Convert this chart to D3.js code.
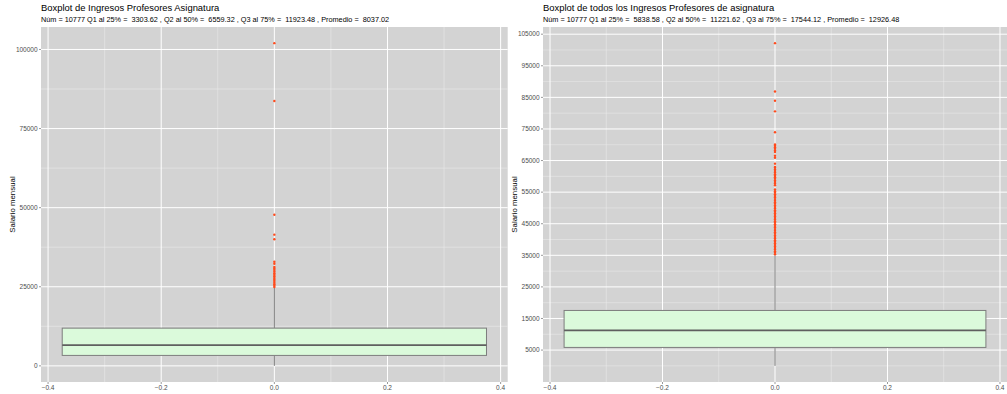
<!DOCTYPE html>
<html>
<head>
<meta charset="utf-8">
<script src="https://cdn.jsdelivr.net/npm/d3@7"></script>
<style>
  body { margin: 0; background: #fff; }
  svg { display: block; font-family: "Liberation Sans", Arial, sans-serif; }
</style>
</head>
<body>
<div id="chart"></div>
<script>
// Shared values.
const sampleSize = 10777;
const xTicks = [-0.4, -0.2, 0.0, 0.2, 0.4];
const xMinorTicks = [-0.3, -0.1, 0.1, 0.3];
const yLabel = "Salario mensual";

// Left chart: Ingresos Profesores Asignatura.
const leftTitle = "Boxplot de Ingresos Profesores Asignatura";
const leftQuartiles = [3303.62, 6559.32, 11923.48];
const leftMean = 8037.02;
const leftWhiskers = [0, 24700];
const leftOutliers = [24900, 25300, 25800, 26300, 26800, 27300, 27800, 28300, 28800,
  29300, 29800, 30300, 30800, 31250, 32290, 32900, 40000, 41470, 47740, 83700, 102000];
const leftYTicks = [0, 25000, 50000, 75000, 100000];
const leftYMinor = [12500, 37500, 62500, 87500];

// Right chart: todos los Ingresos Profesores de asignatura.
const rightTitle = "Boxplot de todos los Ingresos Profesores de asignatura";
const rightQuartiles = [5838.58, 11221.62, 17544.12];
const rightMean = 12926.48;
const rightWhiskers = [0, 35000];
const rightOutliers = [35300, 35800, 36300, 36800, 37300, 37800, 38300, 38800, 39300,
  39800, 40300, 40800, 41300, 41800, 42300, 42800, 43300, 43800, 44300, 44800, 45300,
  45800, 46300, 46800, 47300, 47800, 48300, 48800, 49300, 49800, 50300, 50800, 51300,
  51800, 52300, 52800, 53300, 53800, 54300, 54800, 55300, 55850, 57200, 57700, 58200,
  58700, 59200, 59700, 60200, 60700, 61200, 61700, 62200, 62700, 62960, 64020, 65900,
  66540, 67700, 68200, 68700, 69200, 69700, 70070, 73970, 80570, 83930, 86860, 102170];
const rightYTicks = [5000, 15000, 25000, 35000, 45000, 55000, 65000, 75000, 85000, 95000, 105000];
const rightYMinor = [0, 10000, 20000, 30000, 40000, 50000, 60000, 70000, 80000, 90000, 100000];

// Layout.
const width = 1007;
const height = 394;
const baseFont = 7.85;
const subtitleFont = 7.3;
const tickFont = 6.5;

const svg = d3.select("#chart").append("svg")
  .attr("width", width)
  .attr("height", height);

function fmt(v) {
  return v.toFixed(2);
}

function drawBoxplot(opts) {
  const g = svg.append("g");
  const left = opts.left, right = opts.right, top = 27, bottom = 382;

  // x scale with ggplot-like 5% expansion around the box width.
  const xScale = d3.scaleLinear()
    .domain([-0.4125, 0.4125])
    .range([left, right]);

  const lo = d3.min([opts.whiskers[0], d3.min(opts.outliers)]);
  const hi = d3.max([opts.whiskers[1], d3.max(opts.outliers)]);
  const pad = (hi - lo) * 0.05;
  const yScale = d3.scaleLinear()
    .domain([lo - pad, hi + pad])
    .range([bottom, top]);

  // Panel background.
  g.append("rect")
    .attr("x", left).attr("y", top)
    .attr("width", right - left).attr("height", bottom - top)
    .attr("fill", "#d3d3d3");

  // Minor grid.
  g.selectAll(".ymin").data(opts.yMinor).enter().append("line")
    .attr("x1", left).attr("x2", right)
    .attr("y1", (d) => yScale(d)).attr("y2", (d) => yScale(d))
    .attr("stroke", "#ececec").attr("stroke-width", 0.5);
  g.selectAll(".xmin").data(xMinorTicks).enter().append("line")
    .attr("y1", top).attr("y2", bottom)
    .attr("x1", (d) => xScale(d)).attr("x2", (d) => xScale(d))
    .attr("stroke", "#ececec").attr("stroke-width", 0.5);

  // Major grid.
  g.selectAll(".ymaj").data(opts.yTicks).enter().append("line")
    .attr("x1", left).attr("x2", right)
    .attr("y1", (d) => yScale(d)).attr("y2", (d) => yScale(d))
    .attr("stroke", "#ffffff").attr("stroke-width", 1);
  g.selectAll(".xmaj").data(xTicks).enter().append("line")
    .attr("y1", top).attr("y2", bottom)
    .attr("x1", (d) => xScale(d)).attr("x2", (d) => xScale(d))
    .attr("stroke", "#ffffff").attr("stroke-width", 1);

  // Whiskers.
  const q = opts.quartiles;
  g.append("line")
    .attr("x1", xScale(0)).attr("x2", xScale(0))
    .attr("y1", yScale(q[2])).attr("y2", yScale(opts.whiskers[1]))
    .attr("stroke", "#6e6e6e").attr("stroke-width", 0.9);
  g.append("line")
    .attr("x1", xScale(0)).attr("x2", xScale(0))
    .attr("y1", yScale(q[0])).attr("y2", yScale(opts.whiskers[0]))
    .attr("stroke", "#6e6e6e").attr("stroke-width", 0.9);

  // Box.
  g.append("rect")
    .attr("x", xScale(-0.375)).attr("y", yScale(q[2]))
    .attr("width", xScale(0.375) - xScale(-0.375))
    .attr("height", yScale(q[0]) - yScale(q[2]))
    .attr("fill", "#dbfadb")
    .attr("stroke", "#7d7d7d").attr("stroke-width", 1);
  g.append("line")
    .attr("x1", xScale(-0.375)).attr("x2", xScale(0.375))
    .attr("y1", yScale(q[1])).attr("y2", yScale(q[1]))
    .attr("stroke", "#5f5f5f").attr("stroke-width", 1.6);

  // Outliers.
  g.selectAll(".out").data(opts.outliers).enter().append("circle")
    .attr("cx", xScale(0)).attr("cy", (d) => yScale(d))
    .attr("r", 1.2)
    .attr("fill", "#ff4a1c");

  // Y axis ticks and labels.
  g.selectAll(".ytick").data(opts.yTicks).enter().append("line")
    .attr("x1", left - 2).attr("x2", left)
    .attr("y1", (d) => yScale(d)).attr("y2", (d) => yScale(d))
    .attr("stroke", "#333").attr("stroke-width", 0.5);
  g.selectAll(".ylab").data(opts.yTicks).enter().append("text")
    .attr("x", left - 3.4).attr("y", (d) => yScale(d))
    .attr("dy", "0.35em")
    .attr("text-anchor", "end")
    .attr("font-size", tickFont)
    .attr("fill", "#4d4d4d")
    .text((d) => d);

  // X axis ticks and labels.
  g.selectAll(".xtick").data(xTicks).enter().append("line")
    .attr("y1", bottom).attr("y2", bottom + 2)
    .attr("x1", (d) => xScale(d)).attr("x2", (d) => xScale(d))
    .attr("stroke", "#333").attr("stroke-width", 0.5);
  g.selectAll(".xlab").data(xTicks).enter().append("text")
    .attr("x", (d) => xScale(d)).attr("y", bottom + 3.4)
    .attr("dy", "0.75em")
    .attr("text-anchor", "middle")
    .attr("font-size", tickFont)
    .attr("fill", "#4d4d4d")
    .text((d) => d3.format(".1f")(d));

  // Y axis title.
  g.append("text")
    .attr("transform", `translate(${opts.yTitleX},${(top + bottom) / 2})rotate(-90)`)
    .attr("text-anchor", "middle")
    .attr("font-size", baseFont)
    .attr("fill", "#000")
    .text(yLabel);

  // Title and subtitle.
  g.append("text")
    .attr("x", left).attr("y", 11)
    .attr("font-size", baseFont * 1.2)
    .attr("fill", "#000")
    .text(opts.title);
  g.append("text")
    .attr("x", left).attr("y", 21.8)
    .attr("font-size", subtitleFont)
    .attr("fill", "#000")
    .attr("xml:space", "preserve")
    .style("white-space", "pre")
    .text(`Núm = ${sampleSize} Q1 al 25% =  ${fmt(q[0])} , Q2 al 50% =  ${fmt(q[1])} , Q3 al 75% =  ${fmt(q[2])} , Promedio =  ${fmt(opts.mean)}`);
}

drawBoxplot({
  left: 41, right: 507.7, yTitleX: 14.5,
  title: leftTitle, quartiles: leftQuartiles, mean: leftMean,
  whiskers: leftWhiskers, outliers: leftOutliers,
  yTicks: leftYTicks, yMinor: leftYMinor
});

drawBoxplot({
  left: 543, right: 1007, yTitleX: 517,
  title: rightTitle, quartiles: rightQuartiles, mean: rightMean,
  whiskers: rightWhiskers, outliers: rightOutliers,
  yTicks: rightYTicks, yMinor: rightYMinor
});
</script>
</body>
</html>
